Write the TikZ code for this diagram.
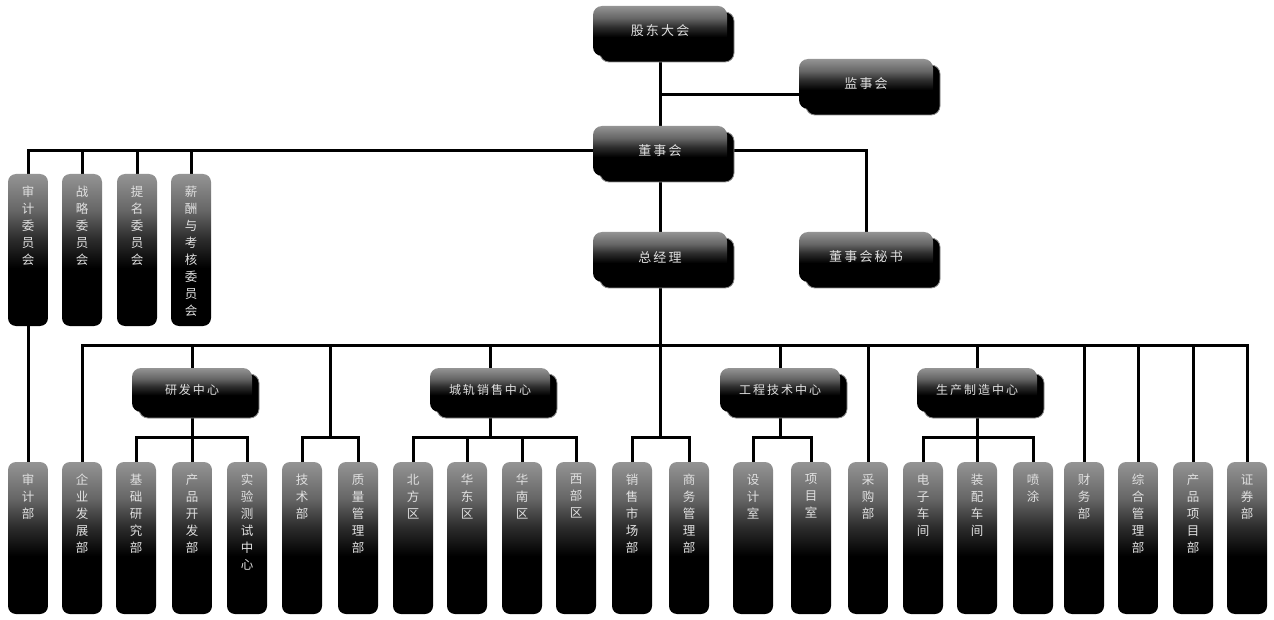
\documentclass[tikz,border=0pt]{standalone}
\usepackage{fontspec}
\newfontfamily\cjk{Noto Sans CJK SC}
\usetikzlibrary{shadows,calc}

% glossy box fill: grey band at the top fading into black
\pgfdeclareverticalshading{glossy}{100bp}{%
  color(0bp)=(black); color(25bp)=(black); color(44bp)=(black);
  color(54bp)=(black!82); color(63bp)=(black!60); color(75bp)=(black!42);
  color(100bp)=(black!42)}

\pgfdeclarelayer{paper}
\pgfdeclarelayer{bg}
\pgfsetlayers{paper,bg,main}

% vertical label: one character per line, starting at the top of the box
\newcommand\vt[1]{\parbox[c][128pt][t]{1.3em}{\centering\baselineskip=17pt #1}}

\tikzset{
  conn/.style={line width=3pt, black},
  hbox/.style={rounded corners=9pt, minimum width=134pt, minimum height=50pt,
    inner sep=0pt, shade, shading=glossy, text=black!12,
    font=\cjk\fontsize{13}{15}\selectfont,
    general shadow={shadow xshift=7pt, shadow yshift=-6pt, fill=black,
      draw=black!45, line width=0.8pt}},
  mbox/.style={hbox, minimum width=120pt, minimum height=44pt,
    font=\cjk\fontsize{12}{14}\selectfont},
  vbox/.style={rounded corners=8pt, minimum width=40pt, minimum height=152pt,
    inner xsep=0pt, inner ysep=11pt, shade, shading=glossy, text=black!12,
    font=\cjk\fontsize{12.5}{14}\selectfont},
}

\begin{document}
\begin{tikzpicture}[x=1pt, y=-1pt]
\begin{pgfonlayer}{paper}
  \fill[white] (0,0) rectangle (1274,620);
\end{pgfonlayer}
\useasboundingbox (0,0) rectangle (1274,620);

% top management
\node[hbox] (gd)  at (660,31)  {股\,东\,大\,会};
\node[hbox] (jsh) at (866,84)  {监\,事\,会};
\node[hbox] (dsh) at (660,151) {董\,事\,会};
\node[hbox] (zjl) at (660,257) {总\,经\,理};
\node[hbox] (ms)  at (866,257) {董\,事\,会\,秘\,书};

% board committees
\node[vbox] (c1) at (28,250)  {\vt{审\\计\\委\\员\\会}};
\node[vbox] (c2) at (82,250)  {\vt{战\\略\\委\\员\\会}};
\node[vbox] (c3) at (137,250) {\vt{提\\名\\委\\员\\会}};
\node[vbox] (c4) at (191,250) {\vt{薪\\酬\\与\\考\\核\\委\\员\\会}};

% centres
\node[mbox] (yf) at (192,390) {研\,发\,中\,心};
\node[mbox] (cg) at (490,390) {城\,轨\,销\,售\,中\,心};
\node[mbox] (gc) at (780,390) {工\,程\,技\,术\,中\,心};
\node[mbox] (sc) at (977,390) {生\,产\,制\,造\,中\,心};

% departments
\node[vbox] (b1)  at (28,538)   {\vt{审\\计\\部}};
\node[vbox] (b2)  at (82,538)   {\vt{企\\业\\发\\展\\部}};
\node[vbox] (b3)  at (136,538)  {\vt{基\\础\\研\\究\\部}};
\node[vbox] (b4)  at (192,538)  {\vt{产\\品\\开\\发\\部}};
\node[vbox] (b5)  at (247,538)  {\vt{实\\验\\测\\试\\中\\心}};
\node[vbox] (b6)  at (302,538)  {\vt{技\\术\\部}};
\node[vbox] (b7)  at (358,538)  {\vt{质\\量\\管\\理\\部}};
\node[vbox] (b8)  at (413,538)  {\vt{北\\方\\区}};
\node[vbox] (b9)  at (467,538)  {\vt{华\\东\\区}};
\node[vbox] (b10) at (522,538)  {\vt{华\\南\\区}};
\node[vbox] (b11) at (576,538)  {\vt{西\\部\\区}};
\node[vbox] (b12) at (632,538)  {\vt{销\\售\\市\\场\\部}};
\node[vbox] (b13) at (689,538)  {\vt{商\\务\\管\\理\\部}};
\node[vbox] (b14) at (753,538)  {\vt{设\\计\\室}};
\node[vbox] (b15) at (811,538)  {\vt{项\\目\\室}};
\node[vbox] (b16) at (868,538)  {\vt{采\\购\\部}};
\node[vbox] (b17) at (923,538)  {\vt{电\\子\\车\\间}};
\node[vbox] (b18) at (977,538)  {\vt{装\\配\\车\\间}};
\node[vbox] (b19) at (1033,538) {\vt{喷\\涂}};
\node[vbox] (b20) at (1084,538) {\vt{财\\务\\部}};
\node[vbox] (b21) at (1138,538) {\vt{综\\合\\管\\理\\部}};
\node[vbox] (b22) at (1193,538) {\vt{产\\品\\项\\目\\部}};
\node[vbox] (b23) at (1247,538) {\vt{证\\券\\部}};

% junction points of the lower buses
\coordinate (bus) at (660,345);
\coordinate (js)  at (330,437);
\coordinate (xs)  at (660,437);

\begin{pgfonlayer}{bg}
  % governance
  \draw[conn] (gd.south) -- (dsh.north);
  \draw[conn] ([yshift=-11pt]jsh.west) -- ([yshift=-11pt]jsh.west -| gd.south);
  \draw[conn] (dsh.east) -| (ms.north);
  \draw[conn] (dsh.west) -| (c1.north);
  \draw[conn] (dsh.west) -| (c2.north);
  \draw[conn] (dsh.west) -| (c3.north);
  \draw[conn] (dsh.west) -| (c4.north);
  \draw[conn] (dsh.south) -- (zjl.north);
  \draw[conn] (c1.south) -- (b1.north);

  % main bus under the general manager
  \draw[conn] (zjl.south) -- (xs);
  \draw[conn] (b2.north) |- (bus) -| (b23.north);
  \draw[conn] (bus -| yf.north) -- (yf.north);
  \draw[conn] (bus -| cg.north) -- (cg.north);
  \draw[conn] (bus -| gc.north) -- (gc.north);
  \draw[conn] (bus -| sc.north) -- (sc.north);
  \draw[conn] (bus -| js) -- (js);
  \draw[conn] (bus -| b16.north) -- (b16.north);
  \draw[conn] (bus -| b20.north) -- (b20.north);
  \draw[conn] (bus -| b21.north) -- (b21.north);
  \draw[conn] (bus -| b22.north) -- (b22.north);

  % R&D centre
  \draw[conn] (yf.south) -- (b4.north);
  \draw[conn] (b3.north) |- (yf.south |- js) -| (b5.north);
  % technology and quality
  \draw[conn] (b6.north) |- (js) -| (b7.north);
  % rail sales centre
  \draw[conn] (cg.south) -- (cg.south |- js);
  \draw[conn] (b8.north) |- (cg.south |- js) -| (b11.north);
  \draw[conn] (b9.north) -- (b9.north |- js);
  \draw[conn] (b10.north) -- (b10.north |- js);
  % sales market and business management
  \draw[conn] (b12.north) |- (xs) -| (b13.north);
  % engineering centre
  \draw[conn] (gc.south) -- (gc.south |- js);
  \draw[conn] (b14.north) |- (gc.south |- js) -| (b15.north);
  % production centre
  \draw[conn] (sc.south) -- (b18.north);
  \draw[conn] (b17.north) |- (sc.south |- js) -| (b19.north);
\end{pgfonlayer}
\end{tikzpicture}
\end{document}
